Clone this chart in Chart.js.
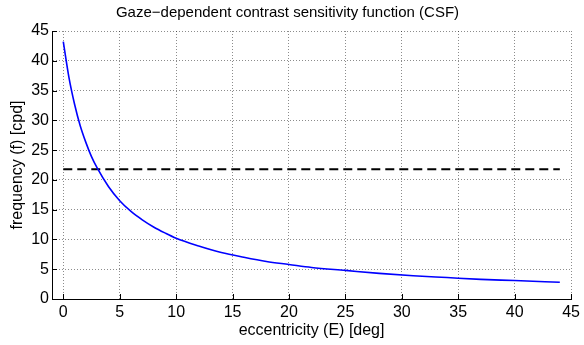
<!DOCTYPE html>
<html>
<head>
<meta charset="utf-8">
<script src="https://cdn.jsdelivr.net/npm/chart.js@4"></script>
<style>
  html, body { margin: 0; padding: 0; background: #fff; }
  #wrap { width: 584px; height: 345px; }
</style>
</head>
<body>
<div id="wrap"><canvas id="chart"></canvas></div>
<script>
// eccentricity E [deg] and the CSF cutoff frequency
const eccentricity = [0, 0.5, 1, 1.5, 2, 2.5, 3, 4, 5, 6, 7, 8, 9, 10, 12, 14, 16, 18, 20, 22, 25, 28, 31, 34, 37, 40, 44];
const frequency = [43.2, 37.2, 32.7, 29.1, 26.3, 23.9, 22.0, 18.9, 16.5, 14.7, 13.3, 12.1, 11.1, 10.2, 8.9, 7.8, 7.0, 6.3, 5.8, 5.3, 4.8, 4.3, 3.9, 3.6, 3.3, 3.1, 2.8];

// dashed horizontal reference line
const limitX = [0, 44];
const limitY = [21.8, 21.8];

// axis ticks
const xTicks = [0, 5, 10, 15, 20, 25, 30, 35, 40, 45];
const yTicks = [0, 5, 10, 15, 20, 25, 30, 35, 40, 45];

const FONT = '"Liberation Sans", Arial, Helvetica, sans-serif';

// MATLAB style: short tick marks pointing into the plot
const innerTicks = {
  id: 'innerTicks',
  afterDatasetsDraw(chart) {
    const { ctx, chartArea, scales } = chart;
    ctx.save();
    ctx.strokeStyle = '#000';
    ctx.lineWidth = 1;
    ctx.beginPath();
    xTicks.forEach(v => {
      const px = Math.round(scales.x.getPixelForValue(v)) + 0.5;
      ctx.moveTo(px, chartArea.bottom);
      ctx.lineTo(px, chartArea.bottom - 5);
    });
    yTicks.forEach(v => {
      const py = Math.round(scales.y.getPixelForValue(v)) + 0.5;
      ctx.moveTo(chartArea.left, py);
      ctx.lineTo(chartArea.left + 5, py);
    });
    ctx.stroke();
    ctx.restore();
  }
};

new Chart(document.getElementById('chart'), {
  type: 'line',
  data: {
    datasets: [{
      label: 'CSF',
      data: eccentricity.map((e, i) => ({ x: e, y: frequency[i] })),
      borderColor: '#0000ff',
      borderWidth: 1.6,
      pointRadius: 0,
      cubicInterpolationMode: 'monotone',
      fill: false
    }, {
      label: 'limit',
      data: limitX.map((e, i) => ({ x: e, y: limitY[i] })),
      borderColor: '#000',
      borderWidth: 2,
      borderDash: [9, 5],
      pointRadius: 0,
      fill: false
    }]
  },
  options: {
    responsive: true,
    maintainAspectRatio: false,
    animation: false,
    layout: { padding: { left: 0, right: 9, top: 0, bottom: 0 } },
    plugins: {
      legend: { display: false },
      tooltip: { enabled: false },
      title: {
        display: true,
        text: 'Gaze\u2212dependent contrast sensitivity function (CSF)',
        color: '#000',
        font: { family: FONT, size: 15, weight: 'normal' },
        padding: { top: 4, bottom: 9 }
      }
    },
    scales: {
      x: {
        type: 'linear',
        min: -1,
        max: 45,
        afterBuildTicks: s => { s.ticks = xTicks.map(v => ({ value: v })); },
        afterFit: s => { s.height = 46; },
        ticks: { color: '#000', font: { family: FONT, size: 16 }, padding: 4, maxRotation: 0 },
        grid: { color: 'rgba(0,0,0,0.45)', lineWidth: 1, drawTicks: false },
        border: { display: true, color: '#000', width: 1, dash: [1, 2] },
        title: {
          display: true,
          text: 'eccentricity (E) [deg]',
          color: '#000',
          font: { family: FONT, size: 16 },
          padding: { top: 0, bottom: 5 }
        }
      },
      y: {
        type: 'linear',
        min: 0,
        max: 45,
        afterBuildTicks: s => { s.ticks = yTicks.map(v => ({ value: v })); },
        afterFit: s => { s.width = 52; },
        ticks: { color: '#000', font: { family: FONT, size: 16 }, padding: 3 },
        grid: { color: 'rgba(0,0,0,0.45)', lineWidth: 1, drawTicks: false },
        border: { display: true, color: '#000', width: 1, dash: [1, 2] },
        title: {
          display: true,
          text: 'frequency (f) [cpd]',
          color: '#000',
          font: { family: FONT, size: 16 },
          padding: { top: 8, bottom: 0 }
        }
      }
    }
  },
  plugins: [innerTicks]
});
</script>
</body>
</html>
